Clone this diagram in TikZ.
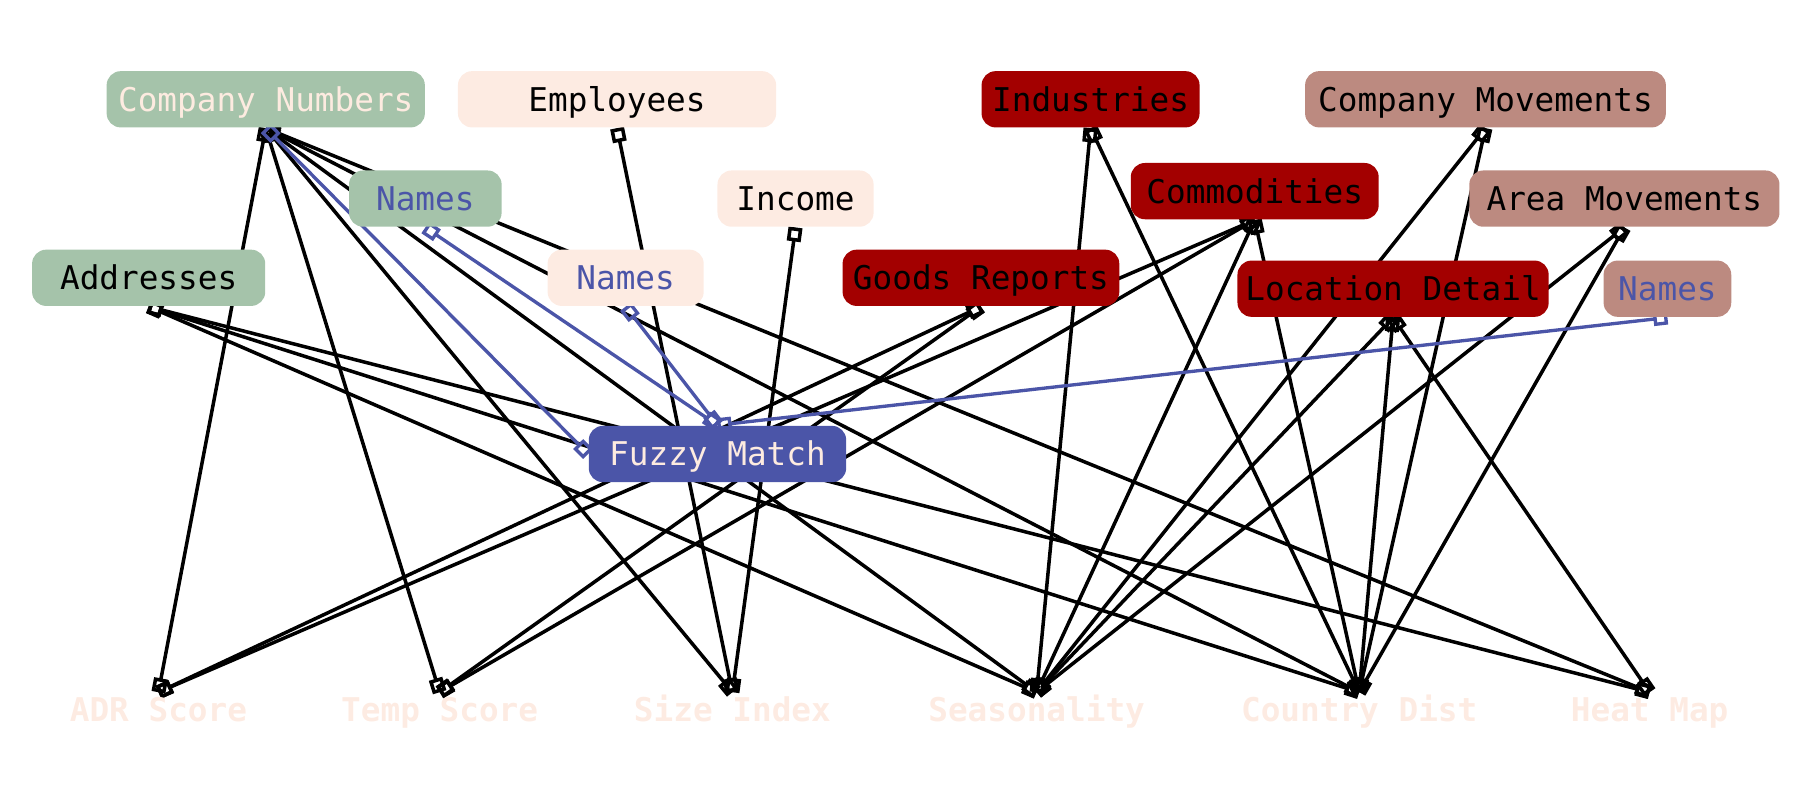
\documentclass[tikz,border=0pt]{standalone}
\usepackage{fontspec}
\newfontfamily\dmono{DejaVu Sans Mono}
\usetikzlibrary{arrows.meta,backgrounds}
\definecolor{sage}{HTML}{A5C3AA}
\definecolor{peach}{HTML}{FDEBE2}
\definecolor{dred}{HTML}{A30000}
\definecolor{rose}{HTML}{BC8A80}
\definecolor{indigo}{HTML}{4B55A8}
\definecolor{cream}{HTML}{FDEBE0}
\tikzset{
  box/.style={rounded corners=4pt, minimum height=16pt, inner xsep=0pt, inner ysep=0pt,
    text height=8pt, text depth=1.2pt, font=\dmono\fontsize{9.3}{11}\selectfont, text=black},
  outlbl/.style={inner xsep=0pt, inner ysep=1pt, text height=7pt, text depth=1.5pt,
    font=\dmono\bfseries\fontsize{9.3}{11}\selectfont, text=peach, anchor=north},
  conn/.style={line width=1pt, draw=black,
    {Square[open,length=4pt,width=4pt]}-{Square[open,length=4pt,width=4pt]}},
  bconn/.style={conn, draw=indigo, line width=0.95pt},
}
\begin{document}
\begin{tikzpicture}[x=0.01148cm, y=-0.01148cm]
\useasboundingbox (0,0) rectangle (1568,697);
% top nodes
\node[box, fill=sage, text=cream, minimum width=90.5pt] (cn) at (231.5,86.5) {Company Numbers};
\node[box, fill=peach, minimum width=90.5pt] (emp) at (537.5,86.5) {Employees};
\node[box, fill=dred, minimum width=62pt] (ind) at (950,86.5) {Industries};
\node[box, fill=rose, minimum width=102.6pt] (cm) at (1294,86.5) {Company Movements};
\node[box, fill=sage, text=indigo, minimum width=43.4pt] (ng) at (370.5,173) {Names};
\node[box, fill=peach, minimum width=44.4pt] (inc) at (693,173) {Income};
\node[box, fill=dred, minimum width=70.5pt] (com) at (1093,166.5) {Commodities};
\node[box, fill=rose, minimum width=88.2pt] (am) at (1415,173) {Area Movements};
\node[box, fill=sage, minimum width=66.3pt] (adr) at (129.5,242) {Addresses};
\node[box, fill=peach, text=indigo, minimum width=44.4pt] (np) at (545,242) {Names};
\node[box, fill=dred, minimum width=78.7pt] (gr) at (854.5,242) {Goods Reports};
\node[box, fill=dred, minimum width=88.5pt] (ld) at (1213.5,251.5) {Location Detail};
\node[box, fill=rose, text=indigo, minimum width=36.3pt] (nr) at (1452.5,251.5) {Names};
\node[box, fill=indigo, text=cream, minimum width=73.2pt] (fm) at (625,395.5) {Fuzzy Match};
% bottom labels
\node[outlbl] (adrs) at (138,603) {ADR Score};
\node[outlbl] (temp) at (383,603) {Temp Score};
\node[outlbl] (size) at (638,603) {Size Index};
\node[outlbl] (seas) at (903,603) {Seasonality};
\node[outlbl] (cdist) at (1184,603) {Country Dist};
\node[outlbl] (heat) at (1437,603) {Heat Map};
\begin{scope}[on background layer]
\draw[conn] (cn.south) -- (adrs.north);
\draw[conn] (cn.south) -- (temp.north);
\draw[conn] (cn.south) -- (size.north);
\draw[conn] (cn.south) -- (seas.north);
\draw[conn] (cn.south) -- (cdist.north);
\draw[conn] (cn.south) -- (heat.north);
\draw[conn] (adr.south) -- (seas.north);
\draw[conn] (adr.south) -- (cdist.north);
\draw[conn] (adr.south) -- (heat.north);
\draw[conn] (emp.south) -- (size.north);
\draw[conn] (inc.south) -- (size.north);
\draw[conn] (gr.south) -- (adrs.north);
\draw[conn] (gr.south) -- (temp.north);
\draw[conn] (com.south) -- (adrs.north);
\draw[conn] (com.south) -- (temp.north);
\draw[conn] (com.south) -- (seas.north);
\draw[conn] (com.south) -- (cdist.north);
\draw[conn] (ind.south) -- (seas.north);
\draw[conn] (ind.south) -- (cdist.north);
\draw[conn] (cm.south) -- (seas.north);
\draw[conn] (cm.south) -- (cdist.north);
\draw[conn] (am.south) -- (seas.north);
\draw[conn] (am.south) -- (cdist.north);
\draw[conn] (ld.south) -- (seas.north);
\draw[conn] (ld.south) -- (cdist.north);
\draw[conn] (ld.south) -- (heat.north);
\draw[bconn] (cn.south) -- (fm.west);
\draw[bconn] (ng.south) -- (fm.north);
\draw[bconn] (np.south) -- (fm.north);
\draw[bconn] (nr.south) -- (fm.north);
\end{scope}
\end{tikzpicture}
\end{document}
